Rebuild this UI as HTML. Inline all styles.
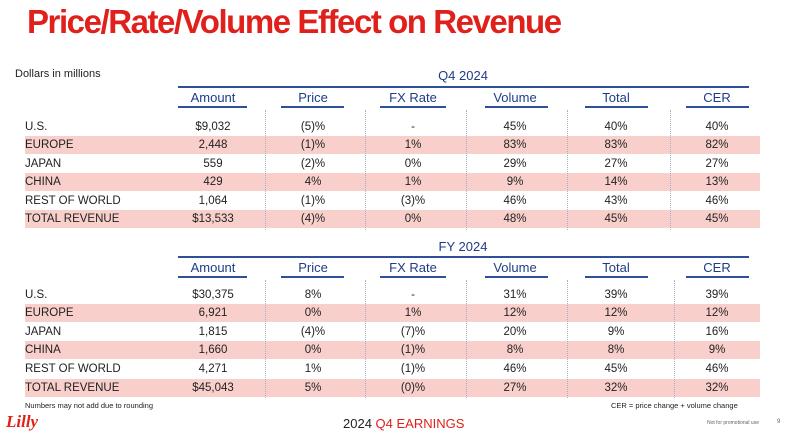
<!DOCTYPE html>
<html><head><meta charset="utf-8"><style>
*{margin:0;padding:0;box-sizing:border-box}
body{width:789px;height:441px;background:#fff;position:relative;overflow:hidden;font-family:"Liberation Sans",sans-serif;color:#222}
.a{position:absolute;white-space:nowrap}
.t{left:27px;top:3px;font-size:33px;font-weight:bold;color:#e0201b;letter-spacing:-1.45px;transform-origin:0 0}
.hl{position:absolute;height:2px;background:#2f4f9a}
.h{position:absolute;width:100px;text-align:center;font-size:13px;color:#1f3c88}
.band{position:absolute;left:25px;width:735px;height:18px;background:#f8cfcb}
.r{position:absolute;left:0;width:789px;height:18px;font-size:11.5px;line-height:18px}
.r span{position:absolute;width:100px;text-align:center}
.r span:first-child{left:25px;width:auto;text-align:left}
.d{position:absolute;width:0;border-left:1px dotted #a8b0c4}
.cap{font-size:13px;color:#1f3c88;width:200px;text-align:center}
</style></head><body>
<div class="a t">Price/Rate/Volume Effect on Revenue</div>
<div class="a" style="left:15px;top:68px;font-size:11px">Dollars in millions</div>

<!-- Q4 -->
<div class="a cap" style="left:363px;top:68px">Q4 2024</div>
<div class="hl" style="left:178px;top:86px;width:571px"></div>
<div class="h" style="left:163px;top:90px">Amount</div>
<div class="h" style="left:263px;top:90px">Price</div>
<div class="h" style="left:363px;top:90px">FX Rate</div>
<div class="h" style="left:465px;top:90px">Volume</div>
<div class="h" style="left:566px;top:90px">Total</div>
<div class="h" style="left:667px;top:90px">CER</div>
<div class="hl" style="left:178px;top:106px;width:69px"></div>
<div class="hl" style="left:281px;top:106px;width:63px"></div>
<div class="hl" style="left:380px;top:106px;width:66px"></div>
<div class="hl" style="left:485px;top:106px;width:63px"></div>
<div class="hl" style="left:585px;top:106px;width:63px"></div>
<div class="hl" style="left:686px;top:106px;width:63px"></div>
<div class="band" style="top:136px"></div>
<div class="band" style="top:173px"></div>
<div class="band" style="top:210px"></div>
<div class="d" style="left:265px;top:110px;height:120px"></div>
<div class="d" style="left:365px;top:110px;height:120px"></div>
<div class="d" style="left:466px;top:110px;height:120px"></div>
<div class="d" style="left:567px;top:110px;height:120px"></div>
<div class="d" style="left:670px;top:110px;height:120px"></div>
<div class="r" style="top:118px"><span>U.S.</span><span style="left:163px">$9,032</span><span style="left:263px">(5)%</span><span style="left:363px">-</span><span style="left:465px">45%</span><span style="left:566px">40%</span><span style="left:667px">40%</span></div>
<div class="r" style="top:136px"><span>EUROPE</span><span style="left:163px">2,448</span><span style="left:263px">(1)%</span><span style="left:363px">1%</span><span style="left:465px">83%</span><span style="left:566px">83%</span><span style="left:667px">82%</span></div>
<div class="r" style="top:155px"><span>JAPAN</span><span style="left:163px">559</span><span style="left:263px">(2)%</span><span style="left:363px">0%</span><span style="left:465px">29%</span><span style="left:566px">27%</span><span style="left:667px">27%</span></div>
<div class="r" style="top:173px"><span>CHINA</span><span style="left:163px">429</span><span style="left:263px">4%</span><span style="left:363px">1%</span><span style="left:465px">9%</span><span style="left:566px">14%</span><span style="left:667px">13%</span></div>
<div class="r" style="top:192px"><span>REST OF WORLD</span><span style="left:163px">1,064</span><span style="left:263px">(1)%</span><span style="left:363px">(3)%</span><span style="left:465px">46%</span><span style="left:566px">43%</span><span style="left:667px">46%</span></div>
<div class="r" style="top:210px"><span>TOTAL REVENUE</span><span style="left:163px">$13,533</span><span style="left:263px">(4)%</span><span style="left:363px">0%</span><span style="left:465px">48%</span><span style="left:566px">45%</span><span style="left:667px">45%</span></div>

<!-- FY -->
<div class="a cap" style="left:363px;top:239px">FY 2024</div>
<div class="hl" style="left:178px;top:256px;width:571px"></div>
<div class="h" style="left:163px;top:260px">Amount</div>
<div class="h" style="left:263px;top:260px">Price</div>
<div class="h" style="left:363px;top:260px">FX Rate</div>
<div class="h" style="left:465px;top:260px">Volume</div>
<div class="h" style="left:566px;top:260px">Total</div>
<div class="h" style="left:667px;top:260px">CER</div>
<div class="hl" style="left:178px;top:276px;width:69px"></div>
<div class="hl" style="left:281px;top:276px;width:63px"></div>
<div class="hl" style="left:380px;top:276px;width:66px"></div>
<div class="hl" style="left:485px;top:276px;width:63px"></div>
<div class="hl" style="left:585px;top:276px;width:63px"></div>
<div class="hl" style="left:686px;top:276px;width:63px"></div>
<div class="band" style="top:304px"></div>
<div class="band" style="top:341px"></div>
<div class="band" style="top:379px"></div>
<div class="d" style="left:265px;top:280px;height:118px"></div>
<div class="d" style="left:365px;top:280px;height:118px"></div>
<div class="d" style="left:466px;top:280px;height:118px"></div>
<div class="d" style="left:567px;top:280px;height:118px"></div>
<div class="d" style="left:674px;top:280px;height:118px"></div>
<div class="r" style="top:286px"><span>U.S.</span><span style="left:163px">$30,375</span><span style="left:263px">8%</span><span style="left:363px">-</span><span style="left:465px">31%</span><span style="left:566px">39%</span><span style="left:667px">39%</span></div>
<div class="r" style="top:304px"><span>EUROPE</span><span style="left:163px">6,921</span><span style="left:263px">0%</span><span style="left:363px">1%</span><span style="left:465px">12%</span><span style="left:566px">12%</span><span style="left:667px">12%</span></div>
<div class="r" style="top:323px"><span>JAPAN</span><span style="left:163px">1,815</span><span style="left:263px">(4)%</span><span style="left:363px">(7)%</span><span style="left:465px">20%</span><span style="left:566px">9%</span><span style="left:667px">16%</span></div>
<div class="r" style="top:341px"><span>CHINA</span><span style="left:163px">1,660</span><span style="left:263px">0%</span><span style="left:363px">(1)%</span><span style="left:465px">8%</span><span style="left:566px">8%</span><span style="left:667px">9%</span></div>
<div class="r" style="top:360px"><span>REST OF WORLD</span><span style="left:163px">4,271</span><span style="left:263px">1%</span><span style="left:363px">(1)%</span><span style="left:465px">46%</span><span style="left:566px">45%</span><span style="left:667px">46%</span></div>
<div class="r" style="top:379px"><span>TOTAL REVENUE</span><span style="left:163px">$45,043</span><span style="left:263px">5%</span><span style="left:363px">(0)%</span><span style="left:465px">27%</span><span style="left:566px">32%</span><span style="left:667px">32%</span></div>

<div class="a" style="left:25px;top:401px;font-size:7.5px">Numbers may not add due to rounding</div>
<div class="a" style="left:611px;top:401px;font-size:7.5px">CER = price change + volume change</div>
<div class="a" style="left:6px;top:412px;font-size:17px;font-style:italic;font-weight:bold;font-family:'Liberation Serif',serif;color:#e0201b">Lilly</div>
<div class="a" style="left:343px;top:416px;font-size:13px">2024 <span style="color:#e0201b">Q4 EARNINGS</span></div>
<div class="a" style="left:707px;top:420px;font-size:5px;color:#666">Not for promotional use</div>
<div class="a" style="left:777px;top:419px;font-size:6px;color:#666">9</div>
</body></html>
